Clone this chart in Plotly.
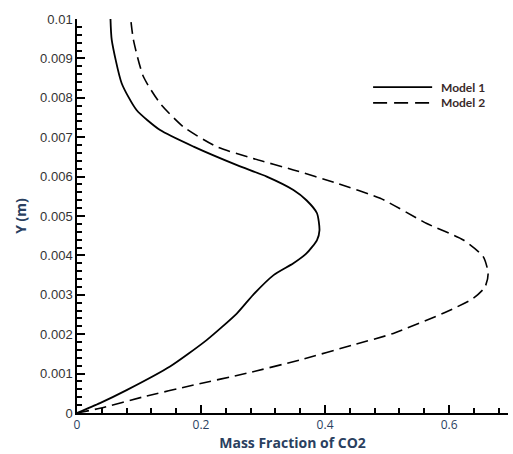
import plotly.graph_objects as go

# Model 1 (solid): mass fraction of CO2 vs Y (m)
m1_x = [0.0, 0.037, 0.080, 0.150, 0.209, 0.258, 0.284, 0.317, 0.349, 0.370, 0.387, 0.391,
        0.387, 0.370, 0.349, 0.306, 0.258, 0.188, 0.134, 0.096, 0.072, 0.056, 0.054]
m1_y = [0.0, 0.00025, 0.00058, 0.00118, 0.00185, 0.00253, 0.0030, 0.0035, 0.0038, 0.00405,
        0.00439, 0.00464, 0.00507, 0.0054, 0.00566, 0.0060, 0.00629, 0.00676, 0.00718,
        0.00769, 0.00837, 0.00947, 0.0100]

# Model 2 (dashed)
m2_x = [0.0, 0.037, 0.107, 0.188, 0.274, 0.360, 0.446, 0.510, 0.596, 0.639, 0.658, 0.663,
        0.655, 0.623, 0.564, 0.489, 0.419, 0.349, 0.284, 0.225, 0.171, 0.134, 0.107, 0.091, 0.0866]
m2_y = [0.0, 0.00012, 0.00041, 0.00071, 0.00101, 0.00135, 0.00173, 0.00202, 0.00257, 0.00291,
        0.0032, 0.00355, 0.00397, 0.00439, 0.00481, 0.00545, 0.00583, 0.00617, 0.00646,
        0.00676, 0.00727, 0.00786, 0.00854, 0.00947, 0.0100]

legend_names = ["Model 1", "Model 2"]

fig = go.Figure(go.Scatter(x=m1_x, y=m1_y, mode="lines", name=legend_names[0],
                           line=dict(color="black", width=1.8, shape="spline", smoothing=0.6)))
fig.add_trace(go.Scatter(x=m2_x, y=m2_y, mode="lines", name=legend_names[1],
                         line=dict(color="black", width=1.6, dash="12px,6px", shape="spline", smoothing=0.6)))

# manual legend
leg = [(0.827, "solid"), (0.787, "14px,7px")]
for (yy, dash), name in zip(leg, legend_names):
    fig.add_shape(type="line", xref="paper", yref="paper", x0=0.687, x1=0.824, y0=yy, y1=yy,
                  line=dict(color="black", width=1.8, dash=dash))
    fig.add_annotation(xref="paper", yref="paper", x=0.840, y=yy, text="<b>" + name + "</b>",
                       showarrow=False, xanchor="left", yanchor="middle",
                       font=dict(family="Lato", size=12, color="#3a2a2a"))

fig.update_layout(
    width=513, height=454,
    margin=dict(l=77, r=5, t=19, b=41),
    plot_bgcolor="white",
    showlegend=False,
    xaxis=dict(range=[0, 0.695], tickmode="linear", tick0=0, dtick=0.2,
               showgrid=False, zeroline=False, showline=True, linecolor="black", linewidth=1.5,
               ticks="inside", ticklen=8, tickwidth=1.5, tickcolor="black",
               minor=dict(dtick=0.04, ticks="inside", ticklen=5, tickcolor="black"),
               title=dict(text="<b>Mass Fraction of CO2</b>", standoff=2)),
    yaxis=dict(range=[0, 0.01], dtick=0.001,
               showgrid=False, zeroline=False, showline=True, linecolor="black", linewidth=1.5,
               ticks="inside", ticklen=8, tickwidth=1.5, tickcolor="black",
               minor=dict(dtick=0.0002, ticks="inside", ticklen=5, tickcolor="black"),
               tickfont=dict(family="Liberation Sans", size=13, color="#333"),
               title=dict(text="<b>Y (m)</b>", standoff=10)),
)

fig.write_html("out.html")
